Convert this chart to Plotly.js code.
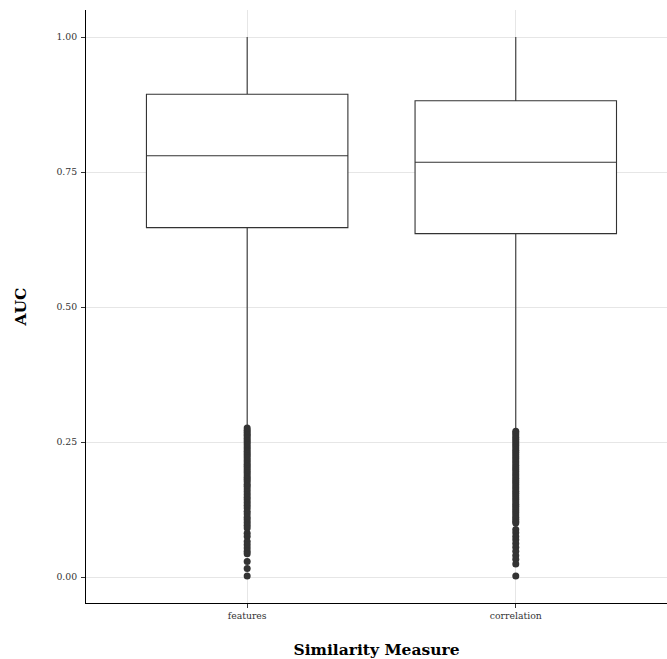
<!DOCTYPE html>
<html>
<head>
<meta charset="utf-8">
<script src="https://cdn.plot.ly/plotly-3.0.1.min.js"></script>
<style>
  html, body { margin: 0; padding: 0; background: #ffffff; }
  #chart { width: 667px; height: 659px; }
</style>
</head>
<body>
<div id="chart"></div>
<script>
// Similarity measures on the x axis
const categories = ['features', 'correlation'];

// Box summary statistics of AUC per measure
const lowerWhisker = [0.277, 0.272];
const q1Values     = [0.647, 0.636];
const medianValues = [0.780, 0.768];
const q3Values     = [0.894, 0.882];
const upperWhisker = [1.000, 1.000];

// Outlying AUC values below the lower whisker
const featuresOutliers = [
  0.276, 0.272, 0.268, 0.264, 0.261, 0.257, 0.253, 0.249, 0.245, 0.241,
  0.237, 0.233, 0.229, 0.225, 0.221, 0.217, 0.213, 0.209, 0.205, 0.201,
  0.197, 0.193, 0.189, 0.185, 0.181, 0.177, 0.172, 0.168, 0.163, 0.158,
  0.153, 0.148, 0.143, 0.138, 0.133, 0.128, 0.122, 0.117, 0.111, 0.106,
  0.101, 0.096, 0.091, 0.081, 0.075, 0.066, 0.060, 0.054, 0.048, 0.043,
  0.029, 0.016, 0.002
];
const correlationOutliers = [
  0.270, 0.267, 0.263, 0.259, 0.255, 0.251, 0.247, 0.243, 0.239, 0.235,
  0.231, 0.227, 0.223, 0.219, 0.215, 0.211, 0.207, 0.203, 0.199, 0.195,
  0.191, 0.187, 0.183, 0.179, 0.175, 0.171, 0.167, 0.163, 0.159, 0.155,
  0.151, 0.147, 0.143, 0.139, 0.135, 0.131, 0.127, 0.123, 0.119, 0.115,
  0.111, 0.107, 0.103, 0.100, 0.088, 0.082, 0.075, 0.069, 0.062, 0.055,
  0.048, 0.040, 0.033, 0.024, 0.002
];

// Y axis ticks
const yTickValues = [0, 0.25, 0.5, 0.75, 1];
const yTickLabels = ['0.00', '0.25', '0.50', '0.75', '1.00'];

const FONT = 'DejaVu Serif, Liberation Serif, serif';
const INK = '#333333';

const boxTrace = {
  type: 'box',
  x: categories,
  q1: q1Values,
  median: medianValues,
  q3: q3Values,
  lowerfence: lowerWhisker,
  upperfence: upperWhisker,
  width: 0.75,
  whiskerwidth: 0,
  fillcolor: '#ffffff',
  line: { color: INK, width: 1.1 },
  boxpoints: false,
  hoverinfo: 'skip',
  showlegend: false
};

const outlierTraces = [
  { name: categories[0], values: featuresOutliers },
  { name: categories[1], values: correlationOutliers }
].map(g => ({
  type: 'scatter',
  mode: 'markers',
  x: g.values.map(() => g.name),
  y: g.values,
  marker: { color: INK, size: 7, line: { width: 0 } },
  hoverinfo: 'y',
  showlegend: false
}));

const layout = {
  width: 667,
  height: 659,
  margin: { l: 86, r: 0, t: 10, b: 56 },
  paper_bgcolor: '#ffffff',
  plot_bgcolor: '#ffffff',
  font: { family: FONT, color: INK },
  showlegend: false,
  xaxis: {
    type: 'category',
    categoryorder: 'array',
    categoryarray: categories,
    range: [-0.6, 1.563],
    showline: true,
    linecolor: '#000000',
    linewidth: 1,
    showgrid: true,
    gridcolor: '#e6e6e6',
    gridwidth: 1,
    zeroline: false,
    ticks: 'outside',
    ticklen: 4,
    tickwidth: 1,
    tickcolor: INK,
    tickfont: { family: FONT, size: 9.3, color: INK },
    title: {
      text: '<b>Similarity Measure</b>',
      font: { family: FONT, size: 15.5, color: '#000000' },
      standoff: 24
    }
  },
  yaxis: {
    range: [-0.048, 1.05],
    tickvals: yTickValues,
    ticktext: yTickLabels,
    showline: true,
    linecolor: '#000000',
    linewidth: 1,
    showgrid: true,
    gridcolor: '#e6e6e6',
    gridwidth: 1,
    zeroline: false,
    ticks: 'outside',
    ticklen: 4,
    tickwidth: 1,
    tickcolor: INK,
    tickfont: { family: FONT, size: 9.3, color: INK },
    ticklabelstandoff: 2,
    title: {
      text: '<b>AUC</b>',
      font: { family: FONT, size: 15.5, color: '#000000' },
      standoff: 26
    }
  }
};

Plotly.newPlot('chart', [boxTrace, ...outlierTraces], layout, { displayModeBar: false, staticPlot: true });
</script>
</body>
</html>
